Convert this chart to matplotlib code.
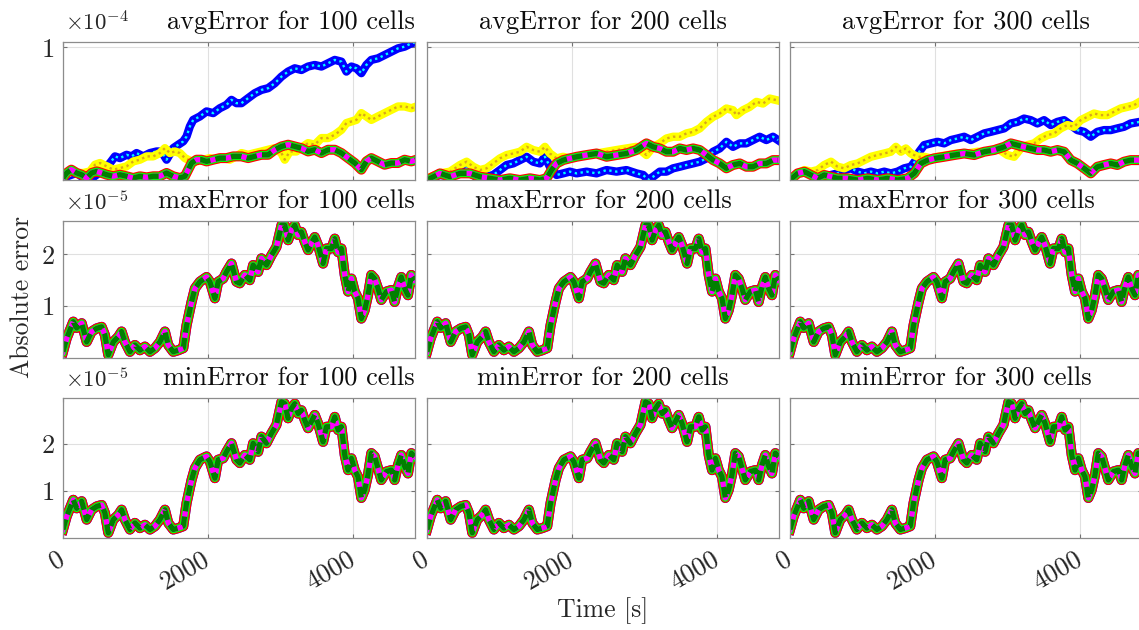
import numpy as np
import matplotlib
matplotlib.use("Agg")
import matplotlib.pyplot as plt
from matplotlib.transforms import ScaledTranslation

plt.rcParams['font.family'] = 'serif'
plt.rcParams['font.serif'] = ['cmr10']
plt.rcParams['mathtext.fontset'] = 'cm'
plt.rcParams['axes.unicode_minus'] = False

cells = [100, 200, 300]

# avgError, 100 cells (values in 1e-4)
avg100_base_t = [0, 51, 115, 189, 258, 327, 396, 465, 534, 603, 694, 786, 878, 970, 1062, 1154, 1246, 1338, 1430, 1522,
                 1614, 1683, 1729, 1775, 1844, 1913, 1982, 2074, 2166, 2257, 2349, 2464, 2556, 2648, 2740, 2832, 2924, 3016,
                 3108, 3200, 3292, 3384, 3476, 3568, 3660, 3752, 3844, 3936, 4028, 4119, 4188, 4257, 4349, 4441, 4533,
                 4625, 4717, 4809, 4878]
avg100_base = [0.015, 0.053, 0.078, 0.053, 0.040, 0.015, 0.053, 0.065, 0.053, 0.040, 0.028, 0.040, 0.028, 0.015, 0.028,
               0.020, 0.028, 0.028, 0.053, 0.028, 0.015, 0.028, 0.078, 0.128, 0.153, 0.153, 0.140, 0.153, 0.165, 0.165,
               0.178, 0.178, 0.165, 0.178, 0.190, 0.190, 0.228, 0.253, 0.266, 0.253, 0.240, 0.215, 0.228, 0.203, 0.228,
               0.228, 0.203, 0.165, 0.128, 0.078, 0.140, 0.165, 0.140, 0.115, 0.128, 0.128, 0.153, 0.140, 0.153]
avg100_blue_t = [0, 119, 189, 281, 373, 465, 557, 649, 718, 786, 878, 947, 1016, 1108, 1200, 1292, 1361, 1430, 1522, 1591,
                 1660, 1706, 1752, 1798, 1890, 1982, 2074, 2166, 2257, 2326, 2395, 2464, 2556, 2648, 2740, 2832, 2924,
                 3016, 3108, 3200, 3292, 3384, 3476, 3568, 3660, 3752, 3844, 3913, 3982, 4051, 4119, 4188, 4257, 4349,
                 4441, 4533, 4625, 4717, 4809, 4878]
avg100_blue = [0.015, 0.040, 0.053, 0.015, 0.003, 0.040, 0.078, 0.128, 0.178, 0.165, 0.190, 0.178, 0.203, 0.178, 0.203,
               0.215, 0.215, 0.153, 0.240, 0.266, 0.291, 0.328, 0.404, 0.453, 0.479, 0.517, 0.504, 0.541, 0.566, 0.604,
               0.579, 0.579, 0.617, 0.654, 0.679, 0.692, 0.729, 0.779, 0.817, 0.842, 0.829, 0.855, 0.867, 0.855, 0.880,
               0.905, 0.892, 0.817, 0.855, 0.842, 0.805, 0.867, 0.905, 0.917, 0.942, 0.967, 0.992, 1.005, 1.030, 1.040]
avg100_yellow_t = [0, 119, 189, 281, 373, 442, 511, 603, 694, 786, 878, 970, 1062, 1154, 1246, 1338, 1407, 1476, 1545,
                   1614, 1683, 1775, 1844, 1936, 2028, 2120, 2211, 2303, 2395, 2464, 2556, 2648, 2740, 2832, 2924, 3016,
                   3062, 3131, 3223, 3315, 3384, 3476, 3568, 3660, 3752, 3844, 3913, 3982, 4051, 4119, 4188, 4257, 4349,
                   4441, 4533, 4625, 4717, 4809, 4878]
avg100_yellow = [0.028, 0.065, 0.053, 0.053, 0.065, 0.115, 0.128, 0.103, 0.078, 0.090, 0.103, 0.140, 0.153, 0.178,
                 0.178, 0.203, 0.240, 0.203, 0.215, 0.203, 0.165, 0.140, 0.140, 0.153, 0.165, 0.153, 0.165, 0.153,
                 0.178, 0.203, 0.190, 0.203, 0.215, 0.228, 0.240, 0.203, 0.153, 0.215, 0.215, 0.253, 0.278, 0.266,
                 0.316, 0.316, 0.341, 0.378, 0.429, 0.441, 0.453, 0.504, 0.479, 0.453, 0.479, 0.504, 0.529, 0.554,
                 0.554, 0.541, 0.554]

# avgError, 200 cells
avg200_base_t = [0, 179, 317, 455, 593, 731, 869, 1007, 1145, 1283, 1421, 1559, 1651, 1720, 1789, 1880, 1972, 2065,
                 2203, 2341, 2479, 2617, 2754, 2892, 3030, 3122, 3214, 3306, 3398, 3490, 3582, 3674, 3766, 3858, 3950,
                 4041, 4134, 4225, 4318, 4409, 4501, 4593, 4685, 4777, 4846]
avg200_base = [0.0, 0.050, 0.025, 0.050, 0.050, 0.025, 0.013, 0.0, 0.013, 0.0, 0.013, 0.0, 0.013, 0.075, 0.125, 0.150,
               0.163, 0.175, 0.188, 0.200, 0.175, 0.188, 0.200, 0.226, 0.276, 0.250, 0.238, 0.213, 0.213, 0.238, 0.226,
               0.238, 0.226, 0.188, 0.150, 0.125, 0.088, 0.113, 0.125, 0.100, 0.100, 0.125, 0.125, 0.150, 0.150]
avg200_blue_t = [0, 179, 317, 455, 547, 639, 731, 823, 915, 1007, 1099, 1191, 1283, 1375, 1466, 1559, 1628, 1697, 1789,
                 1880, 1972, 2065, 2203, 2341, 2479, 2617, 2754, 2892, 2984, 3053, 3122, 3214, 3306, 3398, 3490, 3582,
                 3674, 3766, 3858, 3950, 4041, 4134, 4225, 4318, 4409, 4501, 4593, 4685, 4777, 4846]
avg200_blue = [0.0, 0.038, 0.025, 0.063, 0.088, 0.038, 0.0, 0.025, 0.038, 0.075, 0.113, 0.125, 0.150, 0.175, 0.138,
               0.125, 0.175, 0.100, 0.038, 0.050, 0.063, 0.050, 0.063, 0.050, 0.075, 0.063, 0.075, 0.050, 0.038, 0.0,
               0.025, 0.063, 0.063, 0.088, 0.100, 0.113, 0.125, 0.138, 0.163, 0.213, 0.238, 0.288, 0.250, 0.276, 0.276,
               0.301, 0.326, 0.301, 0.326, 0.301]
avg200_yellow_t = [0, 179, 317, 455, 547, 639, 731, 823, 915, 1007, 1099, 1191, 1283, 1375, 1466, 1559, 1628, 1697,
                   1789, 1880, 1972, 2065, 2203, 2341, 2479, 2617, 2754, 2892, 3030, 3122, 3214, 3306, 3398, 3490, 3582,
                   3674, 3766, 3858, 3950, 4041, 4134, 4225, 4272, 4363, 4455, 4548, 4639, 4731, 4823]
avg200_yellow = [0.013, 0.050, 0.063, 0.113, 0.138, 0.100, 0.075, 0.088, 0.125, 0.163, 0.188, 0.200, 0.213, 0.250,
                 0.226, 0.213, 0.250, 0.200, 0.163, 0.175, 0.163, 0.175, 0.188, 0.200, 0.213, 0.226, 0.238, 0.250,
                 0.188, 0.250, 0.276, 0.313, 0.326, 0.326, 0.351, 0.363, 0.389, 0.438, 0.476, 0.501, 0.539, 0.526,
                 0.489, 0.526, 0.551, 0.589, 0.576, 0.614, 0.602]

# avgError, 300 cells
avg300_base_t = [0, 106, 198, 290, 382, 473, 566, 658, 795, 934, 1071, 1210, 1347, 1485, 1623, 1715, 1807, 1899, 1991,
                 2129, 2267, 2405, 2543, 2681, 2819, 2957, 3049, 3140, 3232, 3324, 3416, 3508, 3600, 3692, 3784, 3876,
                 3968, 4060, 4152, 4244, 4336, 4428, 4520, 4612, 4703, 4828]
avg300_base = [0.0, 0.050, 0.063, 0.038, 0.013, 0.038, 0.025, 0.013, 0.013, 0.0, 0.013, 0.0, 0.013, 0.0, 0.013, 0.050,
               0.125, 0.150, 0.163, 0.175, 0.188, 0.200, 0.188, 0.213, 0.226, 0.250, 0.276, 0.263, 0.250, 0.238, 0.226,
               0.226, 0.213, 0.226, 0.213, 0.150, 0.125, 0.088, 0.050, 0.100, 0.113, 0.125, 0.113, 0.138, 0.150, 0.150]
avg300_blue_t = [0, 106, 198, 290, 382, 473, 566, 658, 749, 841, 934, 1025, 1117, 1210, 1301, 1393, 1485, 1577, 1669,
                 1738, 1784, 1853, 1945, 2037, 2129, 2221, 2313, 2405, 2497, 2589, 2681, 2773, 2865, 2957, 3049, 3140,
                 3232, 3324, 3416, 3508, 3600, 3692, 3784, 3876, 3968, 4060, 4152, 4244, 4336, 4428, 4520, 4612, 4703,
                 4828]
avg300_blue = [0.0, 0.050, 0.063, 0.038, 0.0, 0.013, 0.038, 0.050, 0.075, 0.088, 0.063, 0.050, 0.063, 0.050, 0.063,
               0.050, 0.063, 0.088, 0.100, 0.150, 0.213, 0.263, 0.276, 0.288, 0.276, 0.301, 0.313, 0.326, 0.301, 0.326,
               0.351, 0.363, 0.376, 0.389, 0.426, 0.438, 0.463, 0.451, 0.426, 0.451, 0.414, 0.438, 0.451, 0.414, 0.376,
               0.363, 0.326, 0.363, 0.376, 0.376, 0.389, 0.401, 0.426, 0.438]
avg300_yellow_t = [0, 106, 198, 290, 382, 473, 566, 658, 749, 841, 934, 1025, 1117, 1210, 1301, 1393, 1462, 1531, 1600,
                   1669, 1761, 1853, 1945, 2037, 2175, 2313, 2451, 2589, 2727, 2865, 3003, 3094, 3186, 3278, 3370, 3462,
                   3554, 3646, 3738, 3830, 3922, 4014, 4106, 4198, 4290, 4382, 4473, 4566, 4658, 4749, 4828]
avg300_yellow = [0.0, 0.050, 0.075, 0.063, 0.075, 0.113, 0.138, 0.100, 0.088, 0.113, 0.125, 0.150, 0.175, 0.188, 0.200,
                 0.213, 0.250, 0.213, 0.238, 0.200, 0.175, 0.175, 0.163, 0.175, 0.188, 0.200, 0.200, 0.213, 0.213,
                 0.238, 0.188, 0.175, 0.238, 0.263, 0.276, 0.313, 0.338, 0.351, 0.389, 0.414, 0.401, 0.451, 0.476,
                 0.501, 0.489, 0.489, 0.514, 0.539, 0.551, 0.564, 0.589]

# maxError / minError (values in 1e-5), all cell counts lie on top of each other
ext_t = [0, 51, 142, 189, 258, 327, 396, 465, 534, 579, 625, 694, 763, 809, 855, 924, 993, 1062, 1131, 1200, 1269, 1338,
         1407, 1453, 1522, 1591, 1660, 1706, 1775, 1821, 1890, 1982, 2028, 2097, 2142, 2211, 2257, 2326, 2395, 2441,
         2510, 2579, 2625, 2694, 2740, 2809, 2878, 2947, 3017, 3062, 3108, 3154, 3200, 3246, 3292, 3338, 3384, 3439,
         3476, 3522, 3591, 3637, 3706, 3752, 3798, 3844, 3890, 3936, 3982, 4028, 4073, 4119, 4165, 4211, 4257, 4303,
         4349, 4395, 4465, 4534, 4579, 4625, 4671, 4717, 4763, 4809, 4855]
max_err = [0.12, 0.38, 0.70, 0.58, 0.67, 0.31, 0.51, 0.57, 0.60, 0.44, 0.06, 0.31, 0.41, 0.51, 0.31, 0.12, 0.25, 0.15,
           0.22, 0.12, 0.19, 0.31, 0.51, 0.25, 0.12, 0.15, 0.19, 0.63, 1.08, 1.34, 1.47, 1.56, 1.47, 1.15, 1.47, 1.53,
           1.66, 1.82, 1.47, 1.44, 1.60, 1.50, 1.79, 1.66, 1.92, 1.79, 1.98, 2.14, 2.56, 2.56, 2.27, 2.46, 2.56, 2.37,
           2.43, 2.24, 2.08, 2.24, 2.33, 2.17, 1.82, 2.11, 2.11, 2.30, 2.04, 2.11, 1.60, 1.28, 1.53, 1.28, 1.15, 0.76,
           0.92, 1.21, 1.60, 1.53, 1.34, 1.12, 1.28, 1.31, 1.08, 1.37, 1.56, 1.34, 1.21, 1.60, 1.50]
min_err = [0.18, 0.46, 0.81, 0.63, 0.78, 0.39, 0.60, 0.67, 0.70, 0.53, 0.11, 0.39, 0.49, 0.60, 0.39, 0.18, 0.32, 0.21,
           0.28, 0.18, 0.25, 0.39, 0.60, 0.32, 0.18, 0.21, 0.25, 0.74, 1.23, 1.48, 1.66, 1.73, 1.62, 1.27, 1.66, 1.69,
           1.83, 2.01, 1.66, 1.59, 1.76, 1.66, 2.01, 1.83, 2.15, 2.01, 2.22, 2.40, 2.89, 2.85, 2.54, 2.75, 2.85, 2.64,
           2.71, 2.50, 2.33, 2.50, 2.61, 2.43, 2.04, 2.36, 2.36, 2.57, 2.29, 2.36, 1.76, 1.44, 1.69, 1.44, 1.30, 0.85,
           1.02, 1.34, 1.80, 1.73, 1.48, 1.23, 1.41, 1.44, 1.23, 1.55, 1.76, 1.52, 1.37, 1.80, 1.73]

avg_series = [
    (avg100_base_t, avg100_base, avg100_blue_t, avg100_blue, avg100_yellow_t, avg100_yellow),
    (avg200_base_t, avg200_base, avg200_blue_t, avg200_blue, avg200_yellow_t, avg200_yellow),
    (avg300_base_t, avg300_base, avg300_blue_t, avg300_blue, avg300_yellow_t, avg300_yellow),
]

row_names = ['avgError', 'maxError', 'minError']
row_scale = [1e-4, 1e-5, 1e-5]
row_exp = [r'$\times10^{-4}$', r'$\times10^{-5}$', r'$\times10^{-5}$']
row_ylim = [1.04e-4, 2.64e-5, 2.97e-5]
row_yticks = [[1e-4], [1e-5, 2e-5], [1e-5, 2e-5]]
row_yticklabels = [['1'], ['1', '2'], ['1', '2']]

W, H = 1139, 630
col_left = [63, 427, 790]
col_w = 352
row_top = [42, 221, 398]
row_bot = [180, 358, 538]
FS = 19


def draw_stack(ax, t, y):
    ax.plot(t, y, color='red', lw=7.2, solid_joinstyle='round')
    ax.plot(t, y, color=(0, 1, 0), lw=5.6)
    ax.plot(t, y, color='magenta', lw=3.8)
    ax.plot(t, y, color=(0, 0.5, 0), lw=3.8, ls=(0, (2, 1)))


def draw_blue(ax, t, y):
    ax.plot(t, y, color='blue', lw=6.0)
    ax.plot(t, y, color='cyan', lw=1.7, ls=(0, (1, 1.5)))


def draw_yellow(ax, t, y):
    ax.plot(t, y, color=(1, 1, 0), lw=6.0)
    ax.plot(t, y, color=(0.85, 0.65, 0.1), lw=1.7, ls=(0, (1, 1.5)))


fig = plt.figure(figsize=(W / 100, H / 100), dpi=100)
shift = ScaledTranslation(6 / 100, 0, fig.dpi_scale_trans)

for r in range(3):
    for c in range(3):
        ax = fig.add_axes([col_left[c] / W, 1 - row_bot[r] / H, col_w / W, (row_bot[r] - row_top[r]) / H])
        s = row_scale[r]
        if r == 0:
            bt, by, ut, uy, yt, yy = avg_series[c]
            draw_blue(ax, ut, np.array(uy) * s)
            draw_yellow(ax, yt, np.array(yy) * s)
            draw_stack(ax, bt, np.array(by) * s)
        else:
            vals = max_err if r == 1 else min_err
            ax.plot(ext_t, np.array(vals) * s, color='blue', lw=7.3)
            draw_stack(ax, ext_t, np.array(vals) * s)

        ax.set_xlim(0, 4860)
        ax.set_ylim(0, row_ylim[r])
        ax.set_xticks([0, 2000, 4000])
        ax.set_yticks(row_yticks[r])
        ax.set_yticklabels(row_yticklabels[r] if c == 0 else [])
        if r == 2:
            ax.set_xticklabels(['0', '2000', '4000'], rotation=30, ha='right', va='center',
                               rotation_mode='anchor')
            for lab in ax.get_xticklabels():
                lab.set_transform(lab.get_transform() + shift)
        else:
            ax.set_xticklabels([])
        ax.grid(True, color='0.88', lw=0.8)
        ax.set_axisbelow(True)
        ax.tick_params(direction='in', length=3, top=True, right=True, color='0.45',
                       labelsize=FS, labelcolor='0.15')
        ax.tick_params(axis='x', pad=14)
        ax.tick_params(axis='y', pad=6)
        for sp in ax.spines.values():
            sp.set_color('0.55')
            sp.set_linewidth(0.9)

        title = '%s for %d cells' % (row_names[r], cells[c])
        if c == 0:
            ax.set_title(title, loc='right', fontsize=FS, pad=9, color='0.05')
            ax.annotate(row_exp[r], xy=(0, 1), xycoords='axes fraction', xytext=(1.5, 8),
                        textcoords='offset points', ha='left', va='baseline', fontsize=16.5, color='0.15')
        else:
            ax.set_title(title, loc='center', fontsize=FS, pad=9, color='0.05')

fig.text(22 / W, 1 - 297 / H, 'Absolute error', rotation=90, ha='center', va='center', fontsize=18.5, color='0.15')
fig.text(603 / W, 1 - 611 / H, 'Time [s]', ha='center', va='center', fontsize=18.5, color='0.15')

fig.savefig('out.png', dpi=100)
